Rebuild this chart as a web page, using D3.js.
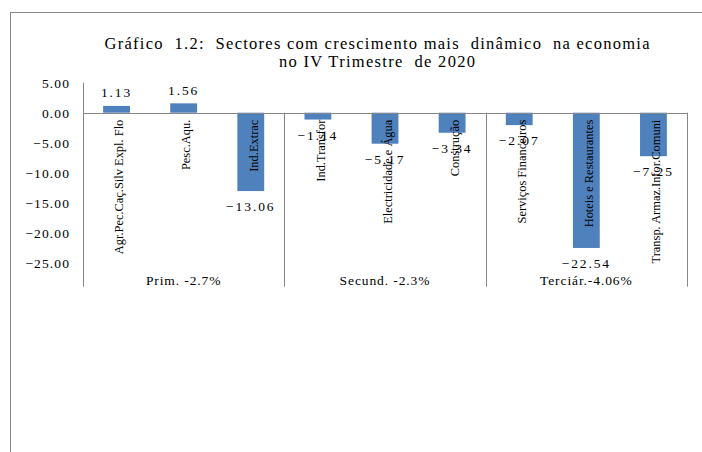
<!DOCTYPE html>
<html>
<head>
<meta charset="utf-8">
<script src="https://cdn.jsdelivr.net/npm/d3@7"></script>
<style>
  body { margin: 0; background: #fff; }
  text { font-family: "Liberation Serif", "Times New Roman", serif; fill: #000; }
</style>
</head>
<body>
<svg width="702" height="452"></svg>
<script>
var categories = ['Agr.Pec.Caç.Silv Expl. Flo', 'Pesc.Aqu.', 'Ind.Extrac',
  'Ind.Transfor', 'Electricidade e Água', 'Construção',
  'Serviços Financeiros', 'Hoteis e Restaurantes', 'Transp. Armaz.Infor.Comuni'];
var values = [1.13, 1.56, -13.06, -1.14, -5.17, -3.34, -2.07, -22.54, -7.25];
var groups = ['Prim. -2.7%', 'Secund. -2.3%', 'Terciár.-4.06%'];
var groupSize = 3;
var yTicks = [5, 0, -5, -10, -15, -20, -25];
var titleLines = ['Gráfico  1.2:  Sectores com crescimento mais  dinâmico  na economia',
  'no IV Trimestre  de 2020'];

var svg = d3.select('svg');
var lineColor = '#878787';
var barColor = '#4f81bd';
var serif = '"Liberation Serif", "Times New Roman", serif';

// outer frame (cut off on right and bottom)
svg.append('rect')
  .attr('x', 10.5).attr('y', 12.5).attr('width', 760).attr('height', 500)
  .attr('fill', 'none').attr('stroke', lineColor);

// title
var titleWidths = [545, 196];
svg.selectAll('.title').data(titleLines).enter().append('text')
  .attr('class', 'title')
  .attr('x', 377).attr('y', function (d, i) { return 49 + i * 18; })
  .attr('text-anchor', 'middle')
  .attr('font-size', '16.5px')
  .attr('textLength', function (d, i) { return titleWidths[i]; })
  .attr('lengthAdjust', 'spacing')
  .style('font-family', serif)
  .style('white-space', 'pre')
  .text(function (d) { return d; });

var left = 83, right = 687;
var y = d3.scaleLinear().domain([-29, 5]).range([286.7, 82.7]);
var x = d3.scaleBand().domain(d3.range(categories.length))
  .range([left, right]).paddingInner(0.6).paddingOuter(0.3);

// bars
svg.selectAll('.bar').data(values).enter().append('rect')
  .attr('class', 'bar')
  .attr('x', function (d, i) { return x(i); })
  .attr('width', x.bandwidth())
  .attr('y', function (d) { return y(Math.max(0, d)); })
  .attr('height', function (d) { return Math.abs(y(d) - y(0)); })
  .attr('fill', barColor);

// y axis
var yAxis = svg.append('g').attr('transform', 'translate(' + left + ',0)')
  .call(d3.axisLeft(y).tickValues(yTicks).tickSize(0).tickPadding(13)
    .tickFormat(d3.format('.2f')));
yAxis.select('.domain').remove();
yAxis.selectAll('text')
  .style('font-family', serif)
  .attr('font-size', '13.5px')
  .attr('letter-spacing', '1.1px')
  .attr('fill', '#000');

svg.append('line')
  .attr('x1', left + 0.5).attr('x2', left + 0.5)
  .attr('y1', y(5)).attr('y2', y(-29))
  .attr('stroke', lineColor);

// zero line
svg.append('line')
  .attr('x1', left).attr('x2', right)
  .attr('y1', Math.round(y(0)) + 0.5).attr('y2', Math.round(y(0)) + 0.5)
  .attr('stroke', lineColor);

// group separators
var bounds = d3.range(groups.length + 1).map(function (g) {
  return left + g * groupSize * (right - left) / categories.length;
});
svg.selectAll('.sep').data(bounds.slice(1)).enter().append('line')
  .attr('class', 'sep')
  .attr('x1', function (d) { return Math.round(d) + 0.5; })
  .attr('x2', function (d) { return Math.round(d) + 0.5; })
  .attr('y1', y(0)).attr('y2', y(-29))
  .attr('stroke', lineColor);

// group labels
svg.selectAll('.grp').data(groups).enter().append('text')
  .attr('class', 'grp')
  .attr('x', function (d, i) { return (bounds[i] + bounds[i + 1]) / 2; })
  .attr('y', 285)
  .attr('text-anchor', 'middle')
  .attr('font-size', '13.5px')
  .attr('letter-spacing', '0.9px')
  .style('font-family', serif)
  .text(function (d) { return d; });

// category labels, rotated
svg.selectAll('.cat').data(categories).enter().append('text')
  .attr('class', 'cat')
  .attr('transform', function (d, i) {
    return 'translate(' + (x(i) + x.bandwidth() / 2 + 2) + ',' + (y(0) + 7) + ') rotate(-90)';
  })
  .attr('dy', '0.35em')
  .attr('text-anchor', 'end')
  .attr('font-size', '13.5px')
  .style('font-family', serif)
  .text(function (d) { return d; })
  .each(function () {
    var len = this.getComputedTextLength();
    d3.select(this).attr('textLength', len * 0.92).attr('lengthAdjust', 'spacingAndGlyphs');
  });

// value labels
svg.selectAll('.val').data(values).enter().append('text')
  .attr('class', 'val')
  .attr('x', function (d, i) { return x(i) + x.bandwidth() / 2; })
  .attr('y', function (d) { return d >= 0 ? y(d) - 8.5 : y(d) + 20; })
  .attr('text-anchor', 'middle')
  .attr('font-size', '13.5px')
  .attr('letter-spacing', '1.9px')
  .style('font-family', serif)
  .text(function (d) { return d3.format('.2f')(d); });
</script>
</body>
</html>
